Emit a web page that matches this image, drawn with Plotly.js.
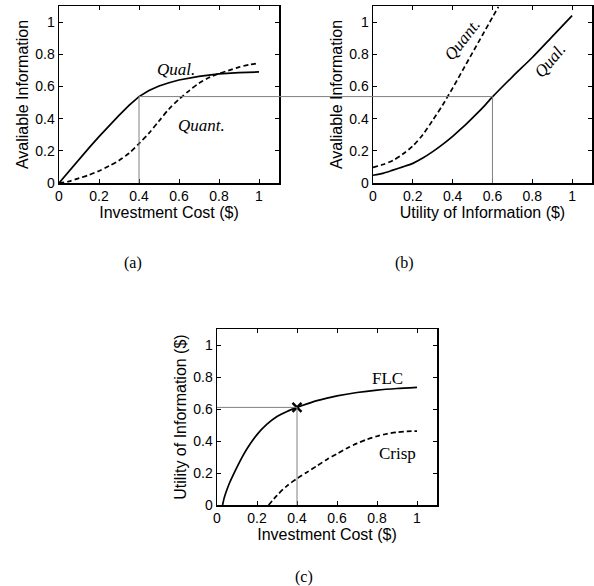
<!DOCTYPE html>
<html><head><meta charset="utf-8">
<script src="https://cdn.plot.ly/plotly-3.0.1.min.js"></script>
<style>html,body{margin:0;padding:0;background:#fff}#chart{width:594px;height:586px}</style>
</head><body><div id="chart"></div>
<script>
// ---- (a) Available information vs investment cost
const aQualX  = [0,0.05,0.1,0.15,0.2,0.25,0.3,0.35,0.4,0.45,0.5,0.55,0.6,0.7,0.8,0.9,1.0];
const aQualY  = [0,0.075,0.148,0.218,0.288,0.357,0.42,0.482,0.537,0.575,0.603,0.623,0.64,0.663,0.678,0.686,0.69];
const aQuantX = [0,0.05,0.1,0.15,0.2,0.25,0.3,0.35,0.4,0.45,0.5,0.55,0.6,0.65,0.7,0.75,0.8,0.85,0.9,0.95,1.0];
const aQuantY = [0,0.01,0.03,0.05,0.075,0.105,0.14,0.185,0.245,0.31,0.385,0.46,0.52,0.573,0.62,0.655,0.68,0.70,0.72,0.735,0.745];
// ---- (b) Available information vs utility of information
const bQualX  = [0,0.05,0.1,0.15,0.2,0.25,0.3,0.35,0.4,0.45,0.5,0.55,0.6,0.7,0.8,0.9,1.0];
const bQualY  = [0.048,0.06,0.08,0.10,0.122,0.155,0.195,0.24,0.29,0.345,0.405,0.467,0.535,0.66,0.78,0.91,1.04];
const bQuantX = [0,0.05,0.1,0.15,0.2,0.25,0.3,0.35,0.4,0.45,0.5,0.55,0.6,0.63];
const bQuantY = [0.097,0.115,0.14,0.18,0.23,0.30,0.39,0.485,0.59,0.70,0.81,0.92,1.03,1.095];
// ---- (c) Utility of information vs investment cost
const cFlcX   = [0.028,0.035,0.045,0.06,0.08,0.1,0.125,0.15,0.2,0.25,0.3,0.35,0.4,0.45,0.5,0.55,0.6,0.7,0.8,0.9,1.0];
const cFlcY   = [0,0.04,0.08,0.13,0.185,0.237,0.298,0.352,0.44,0.505,0.553,0.585,0.61,0.632,0.652,0.668,0.682,0.703,0.718,0.728,0.735];
const cCrispX = [0.258,0.3,0.35,0.4,0.45,0.5,0.55,0.6,0.65,0.7,0.75,0.8,0.85,0.9,0.95,1.0];
const cCrispY = [0,0.06,0.12,0.165,0.205,0.245,0.285,0.32,0.355,0.385,0.41,0.43,0.445,0.455,0.46,0.462];
// guide values
const linkY = 0.537, linkAx = 0.4, linkBx = 0.6;
const markX = [0.4], markY = [0.61];
// text
const tickVals = [0,0.2,0.4,0.6,0.8,1];
const tickText = ['0','0.2','0.4','0.6','0.8','1'];
const titles = {
  ax: 'Investment Cost ($)', ay: 'Avaliable Information',
  bx: 'Utility of Information ($)', by: 'Avaliable Information',
  cx: 'Investment Cost ($)', cy: 'Utility of Information ($)'
};

const W = 594, H = 586;
const domA = {x:[59/W, 279/W], y:[1-183/H, 1-6/H]};
const domB = {x:[373/W, 592/W], y:[1-183/H, 1-6/H]};
const domC = {x:[217/W, 437/W], y:[1-505/H, 1-329/H]};

const sans = 'Liberation Sans, Arial, Helvetica, sans-serif';
const serif = 'Liberation Serif, Times New Roman, serif';
const solid = {color:'#000', width:1.7};
const solidS = {color:'#000', width:1.7, shape:'spline', smoothing:0.6};
const dashed = {color:'#000', width:1.7, dash:'5px,3px', shape:'spline', smoothing:0.8};

function axis(domain, anchor, title, isY) {
  return {
    domain: domain, anchor: anchor, range: [0, 1.1],
    tickmode: 'array', tickvals: tickVals, ticktext: tickText,
    ticks: 'inside', ticklen: 4, tickwidth: 1, tickcolor: '#000',
    showline: true, linecolor: '#000', linewidth: 1.5, mirror: 'ticks',
    showgrid: false, zeroline: false, fixedrange: true,
    tickfont: {family: sans, size: 14, color: '#000'},
    title: {text: title, font: {family: sans, size: 16, color: '#000'}, standoff: isY ? 2 : 3}
  };
}

const traces = [
  {x:aQualX, y:aQualY, xaxis:'x', yaxis:'y', mode:'lines', line:solid},
  {x:aQuantX, y:aQuantY, xaxis:'x', yaxis:'y', mode:'lines', line:dashed},
  {x:bQualX, y:bQualY, xaxis:'x2', yaxis:'y2', mode:'lines', line:solidS},
  {x:bQuantX, y:bQuantY, xaxis:'x2', yaxis:'y2', mode:'lines', line:dashed},
  {x:cFlcX, y:cFlcY, xaxis:'x3', yaxis:'y3', mode:'lines', line:solidS},
  {x:cCrispX, y:cCrispY, xaxis:'x3', yaxis:'y3', mode:'lines', line:dashed},
  {x:markX, y:markY, xaxis:'x3', yaxis:'y3', mode:'markers',
   marker:{symbol:'x-thin', size:9, line:{width:2.4, color:'#000'}, color:'#000'}}
];

const guide = {color:'#808080', width:1};
const shapes = [
  {type:'line', xref:'x', yref:'y', x0:linkAx, x1:linkAx, y0:0, y1:linkY, line:guide},
  {type:'line', xref:'x', yref:'y', x0:linkAx, x1:1.1, y0:linkY, y1:linkY, line:guide},
  {type:'line', xref:'paper', yref:'y', x0:domA.x[1], x1:domB.x[0], y0:linkY, y1:linkY, line:guide},
  {type:'line', xref:'x2', yref:'y2', x0:0, x1:linkBx, y0:linkY, y1:linkY, line:guide},
  {type:'line', xref:'x2', yref:'y2', x0:linkBx, x1:linkBx, y0:0, y1:linkY, line:guide},
  {type:'line', xref:'x3', yref:'y3', x0:0, x1:markX[0], y0:markY[0], y1:markY[0], line:guide},
  {type:'line', xref:'x3', yref:'y3', x0:markX[0], x1:markX[0], y0:0, y1:markY[0], line:guide}
];

const lab = (t, xr, yr, x, y, ang, italic) => ({
  text: t, xref: xr, yref: yr, x: x, y: y, showarrow: false, textangle: ang || 0,
  xanchor: 'center', yanchor: 'middle',
  font: {family: serif, size: 17, color: '#000', style: italic ? 'italic' : 'normal'}
});
const cap = (t, x, y) => ({text:t, xref:'paper', yref:'paper', x:x, y:y, showarrow:false,
  xanchor:'center', yanchor:'middle', font:{family:serif, size:16, color:'#000'}});

const annotations = [
  lab('Qual.', 'x', 'y', 0.583, 0.705, 0, true),
  lab('Quant.', 'x', 'y', 0.71, 0.36, 0, true),
  lab('Quant.', 'x2', 'y2', 0.45, 0.89, -52, true),
  lab('Qual.', 'x2', 'y2', 0.89, 0.76, -50, true),
  lab('FLC', 'x3', 'y3', 0.853, 0.79, 0, false),
  lab('Crisp', 'x3', 'y3', 0.9, 0.325, 0, false),
  cap('(a)', 133/W, 1-263/H),
  cap('(b)', 405/W, 1-263/H),
  cap('(c)', 304/W, 1-577/H)
];

const layout = {
  width: W, height: H, margin: {l:0, r:0, t:0, b:0},
  paper_bgcolor: '#fff', plot_bgcolor: '#fff', showlegend: false,
  xaxis: axis(domA.x, 'y', titles.ax, false),
  yaxis: axis(domA.y, 'x', titles.ay, true),
  xaxis2: axis(domB.x, 'y2', titles.bx, false),
  yaxis2: axis(domB.y, 'x2', titles.by, true),
  xaxis3: axis(domC.x, 'y3', titles.cx, false),
  yaxis3: axis(domC.y, 'x3', titles.cy, true),
  shapes: shapes, annotations: annotations
};

Plotly.newPlot('chart', traces, layout, {displayModeBar:false, staticPlot:true});
</script>
</body></html>
